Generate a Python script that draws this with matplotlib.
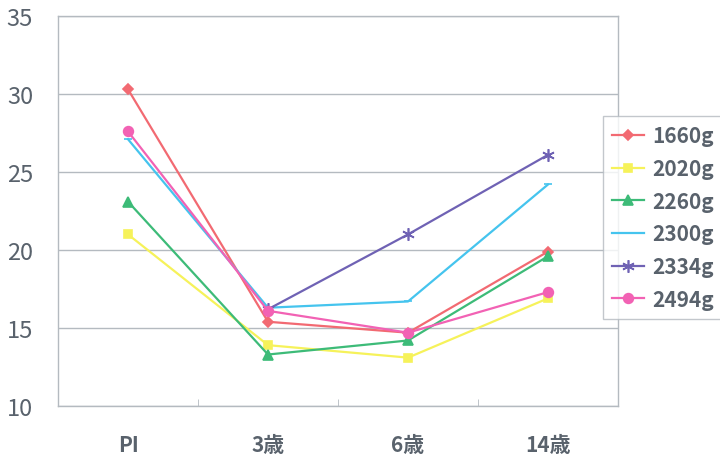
import matplotlib.pyplot as plt
import numpy as np

# Values per weight group at each age (PI = birth index); None = not measured
categories = ["PI", "3歳", "6歳", "14歳"]
labels = ["1660g", "2020g", "2260g", "2300g", "2334g", "2494g"]

w1660 = [30.3, 15.4, 14.7, 19.9]
w2020 = [21.0, 13.9, 13.1, 16.9]
w2260 = [23.1, 13.3, 14.2, 19.6]
w2300 = [27.1, 16.3, 16.7, 24.2]
w2334 = [None, 16.2, 21.0, 26.1]
w2494 = [27.6, 16.1, 14.7, 17.3]

series = [w1660, w2020, w2260, w2300, w2334, w2494]
colors = ["#f26a72", "#f6f25a", "#3dbb78", "#45c4ee", "#6f62b4", "#f262b4"]
markers = ["D", "s", "^", "_", (6, 2, 0), "o"]
msizes = [5, 6, 7, 6, 9, 7]

TEXT = "#59626c"
GRID = "#b4bac0"

plt.rcParams["font.family"] = ["Noto Sans CJK JP", "DejaVu Sans"]

fig = plt.figure(figsize=(7.2, 4.64), dpi=100)
ax = fig.add_axes([58 / 720, 1 - 407 / 464, 560 / 720, 390 / 464])

x = np.arange(len(categories))
for vals, lab, c, m, ms in zip(series, labels, colors, markers, msizes):
    y = np.array([np.nan if v is None else v for v in vals], dtype=float)
    ax.plot(x, y, color=c, lw=1.6, marker=m, markersize=ms,
            markeredgecolor=c, markerfacecolor=c, markeredgewidth=1.2, label=lab)

ax.set_xlim(-0.5, len(categories) - 0.5)
ax.set_ylim(10, 35)
ax.set_yticks(np.arange(10, 36, 5))
ax.grid(axis="y", color=GRID, lw=1)
ax.set_axisbelow(True)

ax.set_xticks(x)
ax.set_xticklabels(categories, fontsize=15, fontweight="bold", color=TEXT)
ax.set_xticks(x[:-1] + 0.5, minor=True)
ax.tick_params(axis="x", which="major", length=0, pad=20)
ax.tick_params(axis="x", which="minor", direction="in", length=5, color=GRID)
ax.tick_params(axis="y", length=0, pad=18, labelsize=17, labelcolor=TEXT)

for s in ax.spines.values():
    s.set_color(GRID)
    s.set_linewidth(1)

leg = fig.legend(loc="upper left", bbox_to_anchor=(603 / 720, 1 - 117 / 464),
                 borderaxespad=0, frameon=True, fancybox=False,
                 prop={"size": 15, "weight": "bold"}, labelcolor=TEXT,
                 handlelength=1.5, handletextpad=0.4, labelspacing=0.56,
                 borderpad=0.45)
leg.get_frame().set_edgecolor(GRID)
leg.get_frame().set_linewidth(1)

fig.savefig("out.png", dpi=100, facecolor="white")
